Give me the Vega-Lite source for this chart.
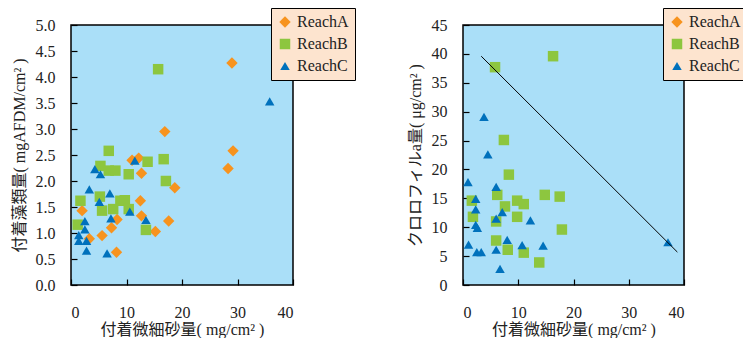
{
  "$schema": "https://vega.github.io/schema/vega-lite/v6.json",
  "background": "white",
  "padding": {"left": 10, "top": 6, "right": 0, "bottom": 0},
  "bounds": "flush",
  "spacing": 170,
  "config": {
    "view": {"fill": "#AADFF8", "stroke": "black", "strokeWidth": 1.5},
    "axis": {
      "grid": false, "domain": false, "ticks": true, "tickColor": "black", "tickSize": 6, "tickWidth": 1.2, "offset": -6, "zindex": 1,
      "labelFont": "Liberation Serif", "labelFontSize": 16, "labelColor": "#222",
      "titleFont": "Liberation Serif, Noto Sans CJK JP", "titleFontSize": 16, "titleFontWeight": "normal", "titleColor": "#222"
    },
    "legend": {
      "fillColor": "#FDE4CF", "strokeColor": "black", "padding": 6,
      "labelFont": "Liberation Serif", "labelFontSize": 16, "labelColor": "#222",
      "rowPadding": 6, "symbolStrokeWidth": 0
    }
  },
  "datasets": {
    "left": [
      {"reach": "ReachA", "x": 29.0, "y": 4.27},
      {"reach": "ReachA", "x": 16.9, "y": 2.95},
      {"reach": "ReachA", "x": 29.2, "y": 2.58},
      {"reach": "ReachA", "x": 28.3, "y": 2.24},
      {"reach": "ReachA", "x": 11.0, "y": 2.40},
      {"reach": "ReachA", "x": 12.2, "y": 2.44},
      {"reach": "ReachA", "x": 12.7, "y": 2.15},
      {"reach": "ReachA", "x": 18.7, "y": 1.87},
      {"reach": "ReachA", "x": 12.5, "y": 1.62},
      {"reach": "ReachA", "x": 2.0, "y": 1.43},
      {"reach": "ReachA", "x": 12.7, "y": 1.33},
      {"reach": "ReachA", "x": 8.3, "y": 1.26},
      {"reach": "ReachA", "x": 17.6, "y": 1.23},
      {"reach": "ReachA", "x": 7.3, "y": 1.10},
      {"reach": "ReachA", "x": 5.6, "y": 0.95},
      {"reach": "ReachA", "x": 15.2, "y": 1.03},
      {"reach": "ReachA", "x": 3.3, "y": 0.89},
      {"reach": "ReachA", "x": 8.2, "y": 0.63},
      {"reach": "ReachB", "x": 15.7, "y": 4.15},
      {"reach": "ReachB", "x": 6.8, "y": 2.58},
      {"reach": "ReachB", "x": 16.7, "y": 2.42},
      {"reach": "ReachB", "x": 13.8, "y": 2.37},
      {"reach": "ReachB", "x": 5.3, "y": 2.29},
      {"reach": "ReachB", "x": 6.8, "y": 2.20},
      {"reach": "ReachB", "x": 8.0, "y": 2.20},
      {"reach": "ReachB", "x": 10.4, "y": 2.13},
      {"reach": "ReachB", "x": 17.1, "y": 2.00},
      {"reach": "ReachB", "x": 5.2, "y": 1.70},
      {"reach": "ReachB", "x": 1.7, "y": 1.62},
      {"reach": "ReachB", "x": 8.9, "y": 1.62},
      {"reach": "ReachB", "x": 9.7, "y": 1.63},
      {"reach": "ReachB", "x": 10.4, "y": 1.46},
      {"reach": "ReachB", "x": 5.6, "y": 1.43},
      {"reach": "ReachB", "x": 7.6, "y": 1.46},
      {"reach": "ReachB", "x": 1.2, "y": 1.16},
      {"reach": "ReachB", "x": 13.5, "y": 1.06},
      {"reach": "ReachC", "x": 35.8, "y": 3.53},
      {"reach": "ReachC", "x": 11.5, "y": 2.39},
      {"reach": "ReachC", "x": 4.3, "y": 2.23},
      {"reach": "ReachC", "x": 5.3, "y": 2.13},
      {"reach": "ReachC", "x": 3.3, "y": 1.84},
      {"reach": "ReachC", "x": 7.0, "y": 1.76},
      {"reach": "ReachC", "x": 5.1, "y": 1.60},
      {"reach": "ReachC", "x": 10.6, "y": 1.41},
      {"reach": "ReachC", "x": 7.2, "y": 1.28},
      {"reach": "ReachC", "x": 13.5, "y": 1.25},
      {"reach": "ReachC", "x": 2.5, "y": 1.23},
      {"reach": "ReachC", "x": 2.5, "y": 1.07},
      {"reach": "ReachC", "x": 1.4, "y": 0.96},
      {"reach": "ReachC", "x": 1.4, "y": 0.85},
      {"reach": "ReachC", "x": 2.8, "y": 0.85},
      {"reach": "ReachC", "x": 2.8, "y": 0.66},
      {"reach": "ReachC", "x": 6.5, "y": 0.61}
    ],
    "right": [
      {"reach": "ReachB", "x": 16.3, "y": 39.6},
      {"reach": "ReachB", "x": 5.8, "y": 37.7},
      {"reach": "ReachB", "x": 7.4, "y": 25.1},
      {"reach": "ReachB", "x": 8.3, "y": 19.1},
      {"reach": "ReachB", "x": 6.2, "y": 15.6},
      {"reach": "ReachB", "x": 14.8, "y": 15.6},
      {"reach": "ReachB", "x": 17.5, "y": 15.3},
      {"reach": "ReachB", "x": 1.6, "y": 14.6},
      {"reach": "ReachB", "x": 9.8, "y": 14.6},
      {"reach": "ReachB", "x": 11.0, "y": 14.0},
      {"reach": "ReachB", "x": 7.6, "y": 13.6},
      {"reach": "ReachB", "x": 1.8, "y": 11.8},
      {"reach": "ReachB", "x": 9.8, "y": 11.8},
      {"reach": "ReachB", "x": 6.0, "y": 11.0},
      {"reach": "ReachB", "x": 17.9, "y": 9.6},
      {"reach": "ReachB", "x": 6.0, "y": 7.7},
      {"reach": "ReachB", "x": 8.1, "y": 6.1},
      {"reach": "ReachB", "x": 11.0, "y": 5.6},
      {"reach": "ReachB", "x": 13.8, "y": 3.9},
      {"reach": "ReachC", "x": 3.8, "y": 29.1},
      {"reach": "ReachC", "x": 4.5, "y": 22.6},
      {"reach": "ReachC", "x": 0.9, "y": 17.8},
      {"reach": "ReachC", "x": 6.0, "y": 17.0},
      {"reach": "ReachC", "x": 2.3, "y": 14.9},
      {"reach": "ReachC", "x": 2.3, "y": 13.1},
      {"reach": "ReachC", "x": 7.1, "y": 12.6},
      {"reach": "ReachC", "x": 6.0, "y": 11.5},
      {"reach": "ReachC", "x": 12.2, "y": 11.2},
      {"reach": "ReachC", "x": 2.3, "y": 10.4},
      {"reach": "ReachC", "x": 2.6, "y": 9.9},
      {"reach": "ReachC", "x": 1.0, "y": 7.0},
      {"reach": "ReachC", "x": 8.0, "y": 7.8},
      {"reach": "ReachC", "x": 10.7, "y": 6.9},
      {"reach": "ReachC", "x": 14.5, "y": 6.8},
      {"reach": "ReachC", "x": 2.5, "y": 5.7},
      {"reach": "ReachC", "x": 3.3, "y": 5.7},
      {"reach": "ReachC", "x": 6.0, "y": 6.1},
      {"reach": "ReachC", "x": 6.7, "y": 2.8},
      {"reach": "ReachC", "x": 37.1, "y": 7.4}
    ],
    "line": [
      {"x": 3.3, "y": 39.6},
      {"x": 38.8, "y": 5.7}
    ]
  },
  "hconcat": [
    {
      "width": 222, "height": 260,
      "data": {"name": "left"},
      "mark": {"type": "point", "filled": true, "opacity": 1},
      "encoding": {
        "x": {"field": "x", "type": "quantitative", "scale": {"domain": [0, 40], "nice": false},
              "axis": {"values": [0, 10, 20, 30, 40], "title": "付着微細砂量( mg/cm² )", "labelPadding": 19, "titlePadding": 1}},
        "y": {"field": "y", "type": "quantitative", "scale": {"domain": [0, 5], "nice": false},
              "axis": {"values": [0, 0.5, 1, 1.5, 2, 2.5, 3, 3.5, 4, 4.5, 5], "format": ".1f", "title": "付着藻類量( mgAFDM/cm² )", "labelPadding": 16, "titlePadding": 8}},
        "color": {"field": "reach", "type": "nominal", "title": null,
                  "scale": {"domain": ["ReachA", "ReachB", "ReachC"], "range": ["#F7931E", "#8DC63F", "#0071BC"]},
                  "legend": {"orient": "none", "legendX": 200, "legendY": -17}},
        "shape": {"field": "reach", "type": "nominal", "title": null,
                  "scale": {"domain": ["ReachA", "ReachB", "ReachC"], "range": ["diamond", "square", "triangle-up"]},
                  "legend": {"orient": "none", "legendX": 200, "legendY": -17}},
        "size": {"field": "reach", "type": "nominal", "title": null,
                 "scale": {"domain": ["ReachA", "ReachB", "ReachC"], "range": [130, 90, 110]},
                 "legend": {"orient": "none", "legendX": 200, "legendY": -17}}
      }
    },
    {
      "width": 221, "height": 260,
      "encoding": {
        "x": {"field": "x", "type": "quantitative", "scale": {"domain": [0, 40], "nice": false},
              "axis": {"values": [0, 10, 20, 30, 40], "title": "付着微細砂量( mg/cm² )", "labelPadding": 19, "titlePadding": 1}},
        "y": {"field": "y", "type": "quantitative", "scale": {"domain": [0, 45], "nice": false},
              "axis": {"values": [0, 5, 10, 15, 20, 25, 30, 35, 40, 45], "title": "クロロフィルa量( μg/cm² )", "labelPadding": 16, "titlePadding": 8}}
      },
      "layer": [
        {
          "data": {"name": "right"},
          "mark": {"type": "point", "filled": true, "opacity": 1},
          "encoding": {
            "color": {"field": "reach", "type": "nominal", "title": null,
                      "scale": {"domain": ["ReachA", "ReachB", "ReachC"], "range": ["#F7931E", "#8DC63F", "#0071BC"]},
                      "legend": {"orient": "none", "legendX": 200, "legendY": -17}},
            "shape": {"field": "reach", "type": "nominal", "title": null,
                      "scale": {"domain": ["ReachA", "ReachB", "ReachC"], "range": ["diamond", "square", "triangle-up"]},
                      "legend": {"orient": "none", "legendX": 200, "legendY": -17}},
            "size": {"field": "reach", "type": "nominal", "title": null,
                     "scale": {"domain": ["ReachA", "ReachB", "ReachC"], "range": [130, 90, 110]},
                     "legend": {"orient": "none", "legendX": 200, "legendY": -17}}
          }
        },
        {
          "data": {"name": "line"},
          "mark": {"type": "line", "color": "black", "strokeWidth": 1},
          "encoding": {}
        }
      ]
    }
  ],
  "resolve": {
    "scale": {"x": "independent", "y": "independent", "color": "independent", "shape": "independent", "size": "independent"},
    "legend": {"color": "independent", "shape": "independent", "size": "independent"}
  }
}
